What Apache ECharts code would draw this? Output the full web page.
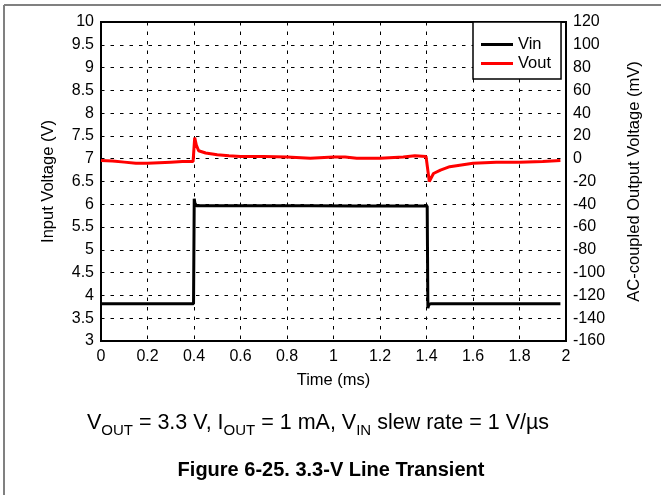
<!DOCTYPE html>
<html>
<head>
<meta charset="utf-8">
<script src="https://cdn.jsdelivr.net/npm/echarts@6/dist/echarts.min.js"></script>
<style>
  html, body { margin: 0; padding: 0; background: #fff; }
  #chart { width: 661px; height: 495px; }
</style>
</head>
<body>
<div id="chart"></div>
<script>
// Input voltage step (V) against time (ms)
const vinTime = [0, 0.1, 0.2, 0.3, 0.398, 0.401, 0.404, 0.41, 0.5, 0.7, 0.9, 1.1, 1.3, 1.403, 1.406, 1.41, 1.42, 1.6, 1.8, 1.976];
const vinVolt = [3.82, 3.82, 3.82, 3.82, 3.82, 6.12, 6.02, 5.97, 5.97, 5.97, 5.97, 5.96, 5.96, 5.96, 3.72, 3.8, 3.82, 3.82, 3.82, 3.82];

// AC-coupled output voltage (mV) against time (ms)
const voutTime = [0, 0.05, 0.1, 0.15, 0.2, 0.25, 0.3, 0.35, 0.396, 0.403, 0.41, 0.42, 0.45, 0.5, 0.55, 0.6, 0.7, 0.8, 0.9, 1.0, 1.05, 1.1, 1.2, 1.3, 1.35, 1.398, 1.412, 1.43, 1.46, 1.5, 1.6, 1.7, 1.8, 1.9, 1.976];
const voutMv = [-1.5, -2, -3, -4, -4, -3.5, -3, -2.5, -2.5, 18.5, 12, 7, 5, 3.5, 2.5, 2, 2, 1.5, 0.5, 1.5, 1.5, 0.5, 0.5, 1.5, 2.5, 2, -20, -13, -10, -7, -4, -3, -3, -2.5, -1.5];

// Axis ranges and tick steps
const timeRange = [0, 2, 0.2];
const vinRange = [3, 10, 0.5];
const voutRange = [-160, 120, 20];

const FONT = '"Liberation Sans", Arial, sans-serif';
const pair = (xs, ys) => xs.map((x, i) => [x, ys[i]]);

const chart = echarts.init(document.getElementById('chart'), null, { renderer: 'canvas' });

const gridDash = { color: '#000', width: 1, type: [3.5, 6] };
const tickLabel = { color: '#000', fontFamily: FONT, fontSize: 16 };
const axisName = { color: '#000', fontFamily: FONT, fontSize: 16.5 };

chart.setOption({
  animation: false,
  backgroundColor: '#fff',
  grid: {
    left: 101, top: 22, right: 95, bottom: 154,
    show: true, borderColor: '#000', borderWidth: 2, backgroundColor: 'transparent'
  },
  legend: {
    orient: 'vertical',
    left: 473, top: 22,
    backgroundColor: '#fff',
    borderColor: '#000', borderWidth: 1.5,
    padding: [14, 10, 7, 8],
    itemWidth: 32, itemHeight: 3, itemGap: 2, itemTextGap: 10,
    icon: 'rect',
    textStyle: { color: '#000', fontFamily: FONT, fontSize: 16.5 },
    data: ['Vin', 'Vout']
  },
  xAxis: {
    type: 'value',
    min: timeRange[0], max: timeRange[1], interval: timeRange[2],
    name: 'Time (ms)', nameLocation: 'middle', nameGap: 31,
    nameTextStyle: axisName,
    axisLine: { show: false },
    axisTick: { show: false },
    axisLabel: Object.assign({ margin: 8 }, tickLabel),
    splitLine: { show: true, lineStyle: gridDash }
  },
  yAxis: [
    {
      type: 'value',
      min: vinRange[0], max: vinRange[1], interval: vinRange[2],
      name: 'Input Voltage (V)', nameLocation: 'middle', nameGap: 44,
      nameTextStyle: axisName,
      axisLine: { show: false },
      axisTick: { show: false },
      axisLabel: Object.assign({ margin: 7 }, tickLabel),
      splitLine: { show: true, lineStyle: gridDash }
    },
    {
      type: 'value',
      position: 'right',
      min: voutRange[0], max: voutRange[1], interval: voutRange[2],
      name: 'AC-coupled Output Voltage (mV)', nameLocation: 'middle', nameGap: 60,
      nameTextStyle: axisName,
      axisLine: { show: false },
      axisTick: { show: false },
      axisLabel: Object.assign({ margin: 7 }, tickLabel),
      splitLine: { show: false }
    }
  ],
  series: [
    {
      name: 'Vin', type: 'line', yAxisIndex: 0,
      data: pair(vinTime, vinVolt),
      symbol: 'none', showSymbol: false,
      lineStyle: { color: '#000', width: 3 },
      itemStyle: { color: '#000' }
    },
    {
      name: 'Vout', type: 'line', yAxisIndex: 1,
      data: pair(voutTime, voutMv),
      symbol: 'none', showSymbol: false,
      lineStyle: { color: '#ff0000', width: 3 },
      itemStyle: { color: '#ff0000' }
    }
  ],
  graphic: [
    // page frame (top and left edges)
    { type: 'line', shape: { x1: 4, y1: 5, x2: 661, y2: 5 }, style: { stroke: '#808080', lineWidth: 2 } },
    { type: 'line', shape: { x1: 4, y1: 5, x2: 4, y2: 495 }, style: { stroke: '#808080', lineWidth: 2 } },
    {
      type: 'text', x: 318, y: 425,
      style: {
        text: '{m|V}{s|OUT}{m| = 3.3 V, I}{s|OUT}{m| = 1 mA, V}{s|IN}{m| slew rate = 1 V/µs}',
        align: 'center', verticalAlign: 'middle',
        rich: {
          m: { fontFamily: FONT, fontSize: 21.5, lineHeight: 21, verticalAlign: 'top', fill: '#000' },
          s: { fontFamily: FONT, fontSize: 15, lineHeight: 26, verticalAlign: 'bottom', fill: '#000' }
        }
      }
    },
    {
      type: 'text', x: 331, y: 470,
      style: {
        text: 'Figure 6-25. 3.3-V Line Transient',
        align: 'center', verticalAlign: 'middle',
        fontFamily: FONT, fontSize: 20, fontWeight: 'bold', fill: '#000'
      }
    }
  ]
});
</script>
</body>
</html>
